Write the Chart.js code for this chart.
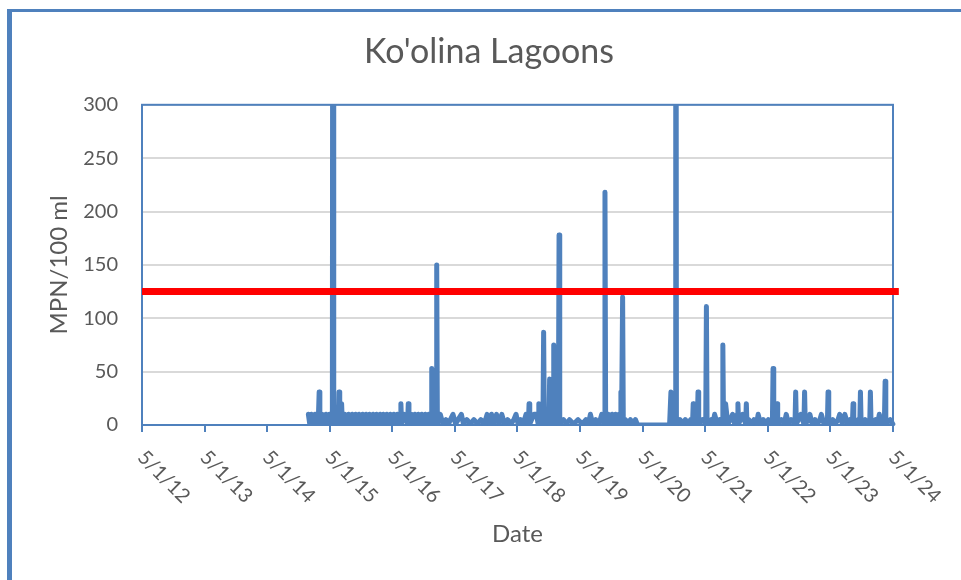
<!DOCTYPE html>
<html>
<head>
<meta charset="utf-8">
<title>Ko'olina Lagoons</title>
<script src="https://cdn.jsdelivr.net/npm/chart.js@4.4.1/dist/chart.umd.min.js"></script>
<style>
  html, body { margin: 0; padding: 0; background: #ffffff; }
  #wrap { width: 961px; height: 580px; }
</style>
</head>
<body>
<div id="wrap"><canvas id="lagoonChart" width="961" height="580"></canvas></div>
<script>
// Sample dates and enterococcus counts (MPN/100 ml)
const sampleDates = [
  '2014-12-28',
  '2015-01-05', '2015-01-15', '2015-01-25', '2015-02-05', '2015-02-15', '2015-02-25', '2015-03-01', '2015-03-05',
  '2015-03-20', '2015-03-30', '2015-04-10', '2015-04-20', '2015-04-30', '2015-05-10', '2015-05-17', '2015-05-21',
  '2015-05-25', '2015-06-10', '2015-06-21', '2015-06-25', '2015-06-29', '2015-07-10', '2015-07-14', '2015-07-30',
  '2015-08-10', '2015-08-20', '2015-08-30', '2015-09-10', '2015-09-20', '2015-09-30', '2015-10-10', '2015-10-20',
  '2015-10-30', '2015-11-10', '2015-11-20', '2015-11-30', '2015-12-10', '2015-12-20', '2015-12-30',
  '2016-01-10', '2016-01-20', '2016-01-30', '2016-02-10', '2016-02-20', '2016-03-01', '2016-03-10', '2016-03-20',
  '2016-03-30', '2016-04-10', '2016-04-20', '2016-04-30', '2016-05-10', '2016-05-20', '2016-05-30', '2016-06-16',
  '2016-06-20', '2016-06-24', '2016-07-10', '2016-07-29', '2016-08-02', '2016-08-06', '2016-08-22', '2016-09-01',
  '2016-09-10', '2016-09-20', '2016-09-30', '2016-10-10', '2016-10-20', '2016-10-30', '2016-11-10', '2016-11-20',
  '2016-11-30', '2016-12-13', '2016-12-17', '2016-12-21',
  '2017-01-05', '2017-01-11', '2017-01-15', '2017-01-19', '2017-02-05', '2017-02-20', '2017-03-10', '2017-03-25',
  '2017-04-05', '2017-04-20', '2017-05-05', '2017-05-20', '2017-06-08', '2017-06-20', '2017-07-10', '2017-07-30',
  '2017-08-20', '2017-09-10', '2017-09-30', '2017-10-20', '2017-11-05', '2017-11-20', '2017-12-01', '2017-12-15',
  '2017-12-30',
  '2018-01-15', '2018-01-30', '2018-02-15', '2018-03-05', '2018-03-25', '2018-04-10', '2018-04-23', '2018-05-05',
  '2018-05-20', '2018-06-05', '2018-06-20', '2018-07-04', '2018-07-08', '2018-07-12', '2018-08-05', '2018-08-20',
  '2018-08-30', '2018-09-03', '2018-09-07', '2018-09-27', '2018-10-01', '2018-10-05', '2018-10-25', '2018-11-01',
  '2018-11-05', '2018-11-09', '2018-11-25', '2018-11-29', '2018-12-03', '2018-12-20', '2018-12-26', '2018-12-30',
  '2019-01-03', '2019-01-25', '2019-02-10', '2019-03-01', '2019-03-25', '2019-04-20', '2019-05-15', '2019-06-05',
  '2019-06-20', '2019-07-01', '2019-07-15', '2019-08-01', '2019-08-20', '2019-09-05', '2019-09-20', '2019-09-24',
  '2019-09-28', '2019-10-15', '2019-10-25', '2019-11-05', '2019-11-15', '2019-11-25', '2019-12-05', '2019-12-15',
  '2019-12-24', '2019-12-26', '2019-12-30',
  '2020-01-05', '2020-01-09', '2020-01-22', '2020-02-05', '2020-02-20', '2020-03-05', '2020-03-20', '2020-04-01',
  '2020-10-05', '2020-10-13', '2020-10-17', '2020-11-06', '2020-11-10', '2020-11-14', '2020-12-05', '2020-12-20',
  '2021-01-05', '2021-01-20', '2021-02-05', '2021-02-16', '2021-02-20', '2021-02-24', '2021-03-16', '2021-03-20',
  '2021-03-24', '2021-04-15', '2021-05-04', '2021-05-08', '2021-05-12', '2021-06-05', '2021-06-15', '2021-06-25',
  '2021-07-10', '2021-07-25', '2021-08-08', '2021-08-12', '2021-08-16', '2021-08-28', '2021-09-10', '2021-09-25',
  '2021-10-08', '2021-10-20', '2021-11-04', '2021-11-08', '2021-11-12', '2021-12-05', '2021-12-23', '2021-12-27',
  '2021-12-31',
  '2022-01-10', '2022-01-25', '2022-02-10', '2022-02-25', '2022-03-06', '2022-03-20', '2022-04-05', '2022-04-20',
  '2022-05-05', '2022-05-28', '2022-06-01', '2022-06-05', '2022-06-20', '2022-06-24', '2022-06-28', '2022-07-20',
  '2022-08-05', '2022-08-17', '2022-08-30', '2022-09-15', '2022-10-07', '2022-10-11', '2022-10-15', '2022-11-10',
  '2022-11-28', '2022-12-02', '2022-12-06', '2022-12-25',
  '2023-01-02', '2023-01-15', '2023-02-01', '2023-02-15', '2023-03-01', '2023-03-10', '2023-03-25', '2023-04-14',
  '2023-04-18', '2023-04-22', '2023-05-15', '2023-05-30', '2023-06-15', '2023-06-25', '2023-07-10', '2023-07-25',
  '2023-08-10', '2023-08-25', '2023-09-07', '2023-09-11', '2023-09-15', '2023-10-10', '2023-10-20', '2023-10-24',
  '2023-10-28', '2023-11-20', '2023-12-05', '2023-12-17', '2023-12-21', '2023-12-25',
  '2024-01-20', '2024-02-01', '2024-02-11', '2024-02-25', '2024-03-12', '2024-03-16', '2024-03-20', '2024-04-15',
  '2024-04-30'
];

const mpnValues = [
  10,
  1, 10, 1, 10, 1, 10, 31, 1,
  10, 1, 10, 1, 10, 1, 10, 1000,
  1, 10, 1, 31, 1, 20, 1, 10,
  1, 10, 1, 10, 1, 10, 1, 10,
  1, 10, 1, 10, 1, 10, 1,
  10, 1, 10, 1, 10, 1, 10, 1,
  10, 1, 10, 1, 10, 1, 10, 1,
  20, 1, 10, 1, 20, 1, 10, 1,
  10, 1, 10, 1, 10, 1, 10, 1,
  10, 1, 53, 1,
  10, 1, 150, 1, 10, 1, 5, 1,
  5, 10, 1, 5, 10, 1, 5, 1,
  5, 1, 5, 1, 10, 1, 10, 1,
  10,
  1, 10, 1, 5, 1, 5, 10, 1,
  5, 1, 10, 1, 20, 1, 10, 10,
  1, 20, 1, 1, 87, 1, 10, 1,
  43, 1, 1, 75, 1, 10, 1, 178,
  1, 5, 1, 5, 1, 5, 1, 5,
  1, 10, 1, 5, 1, 10, 1, 218,
  1, 10, 1, 10, 1, 10, 1, 10,
  1, 31, 5,
  120, 1, 5, 1, 5, 1, 5, 0,
  0, 31, 1, 1, 1000, 1, 5, 1,
  5, 1, 5, 1, 20, 1, 1, 31,
  1, 5, 1, 111, 1, 5, 1, 10,
  1, 5, 1, 75, 1, 20, 1, 5,
  10, 1, 10, 20, 1, 10, 1, 20,
  1,
  5, 1, 5, 1, 10, 1, 5, 1,
  5, 1, 53, 1, 1, 20, 1, 5,
  1, 10, 1, 5, 1, 31, 1, 10,
  1, 31, 1, 5,
  10, 1, 5, 1, 5, 10, 1, 1,
  31, 1, 5, 1, 5, 10, 1, 10,
  1, 5, 1, 20, 1, 5, 1, 31,
  1, 5, 1, 1, 31, 1,
  5, 1, 10, 1, 5, 41, 1, 5,
  1
];

// State single-sample threshold drawn as the red line
const thresholdValue = 125;
const thresholdSpan = ['2012-05-01', '2024-06-04'];

// X axis ticks (every May 1st) and their labels
const tickYears = [2012, 2013, 2014, 2015, 2016, 2017, 2018, 2019, 2020, 2021, 2022, 2023, 2024];
const tickLabels = ['5/1/12', '5/1/13', '5/1/14', '5/1/15', '5/1/16', '5/1/17', '5/1/18',
  '5/1/19', '5/1/20', '5/1/21', '5/1/22', '5/1/23', '5/1/24'];

const yTicks = [0, 50, 100, 150, 200, 250, 300];

const colors = {
  blue: '#4f81bd',
  red: '#ff0000',
  grid: '#d9d9d9',
  text: '#595959'
};
const fontFamily = "Lato, 'Open Sans', sans-serif";

const tickValues = tickYears.map(y => Date.UTC(y, 4, 1));

const sampleData = sampleDates.map((d, i) => ({ x: Date.parse(d), y: mpnValues[i] }));
const thresholdData = thresholdSpan.map(d => ({ x: Date.parse(d), y: thresholdValue }));

// white background plus the blue frame at the left / top of the picture
const framePlugin = {
  id: 'frame',
  beforeDraw(chart) {
    const ctx = chart.ctx;
    ctx.save();
    ctx.fillStyle = '#ffffff';
    ctx.fillRect(0, 0, chart.width, chart.height);
    ctx.fillStyle = colors.blue;
    ctx.fillRect(7, 9, 5, chart.height - 9);
    ctx.fillRect(7, 9, chart.width - 7, 3);
    ctx.restore();
  },
  beforeDatasetsDraw(chart) {
    const a = chart.chartArea;
    const ctx = chart.ctx;
    ctx.save();
    ctx.strokeStyle = colors.blue;
    ctx.lineWidth = 2;
    ctx.strokeRect(a.left, a.top, a.right - a.left, a.bottom - a.top);
    ctx.restore();
  }
};

// date labels, turned 45 degrees clockwise like the Excel original
const slantedLabels = {
  id: 'slantedLabels',
  afterDraw(chart) {
    const scale = chart.scales.x;
    const ctx = chart.ctx;
    ctx.save();
    ctx.font = '20px ' + fontFamily;
    ctx.fillStyle = colors.text;
    ctx.textAlign = 'left';
    ctx.textBaseline = 'middle';
    scale.ticks.forEach((t, i) => {
      const px = scale.getPixelForValue(t.value);
      ctx.save();
      ctx.translate(px - 1, scale.top + 29);
      ctx.rotate(Math.PI / 4);
      ctx.fillText(tickLabels[i], 0, 0);
      ctx.restore();
    });
    ctx.restore();
  }
};

new Chart(document.getElementById('lagoonChart'), {
  type: 'line',
  data: {
    datasets: [
      {
        label: 'Threshold',
        data: thresholdData,
        borderColor: colors.red,
        borderWidth: 7,
        borderCapStyle: 'butt',
        pointRadius: 0,
        clip: false,
        order: 0
      },
      {
        label: 'Enterococcus',
        data: sampleData,
        borderColor: colors.blue,
        borderWidth: 5,
        borderJoinStyle: 'round',
        borderCapStyle: 'round',
        tension: 0,
        pointRadius: 0,
        clip: { left: 5, top: 0, right: 5, bottom: 1 },
        order: 1
      }
    ]
  },
  options: {
    responsive: false,
    animation: false,
    devicePixelRatio: 1,
    layout: { padding: { left: 17, right: 0, top: 0, bottom: 0 } },
    plugins: {
      legend: { display: false },
      tooltip: { enabled: false },
      title: {
        display: true,
        text: "Ko'olina Lagoons",
        color: colors.text,
        font: { family: fontFamily, size: 34, weight: 'normal' },
        padding: { top: 32, bottom: 32 }
      }
    },
    scales: {
      x: {
        type: 'linear',
        min: tickValues[0],
        max: tickValues[tickValues.length - 1],
        afterBuildTicks: (scale) => {
          scale.ticks = tickValues.map(v => ({ value: v }));
        },
        afterFit: (scale) => { scale.height = 155; },
        ticks: { display: false },
        grid: {
          display: true,
          drawOnChartArea: false,
          drawTicks: true,
          tickLength: 7,
          color: colors.blue,
          lineWidth: 2
        },
        border: { display: true, color: colors.blue, width: 2 },
        title: {
          display: true,
          text: 'Date',
          color: colors.text,
          font: { family: fontFamily, size: 24 },
          padding: { top: 0, bottom: 31 }
        }
      },
      y: {
        min: 0,
        max: 300,
        afterBuildTicks: (scale) => {
          scale.ticks = yTicks.map(v => ({ value: v }));
        },
        afterFit: (scale) => { scale.width = 125; },
        ticks: {
          color: colors.text,
          padding: 24,
          font: { family: fontFamily, size: 20 }
        },
        grid: {
          color: colors.grid,
          lineWidth: 2,
          drawTicks: false
        },
        border: { display: true, color: colors.blue, width: 2 },
        title: {
          display: true,
          text: 'MPN/100 ml',
          color: colors.text,
          font: { family: fontFamily, size: 24 },
          padding: { top: 28, bottom: 0 }
        }
      },
      // empty right-hand box that keeps the white margin beside the plot
      spacer: {
        position: 'right',
        display: true,
        afterFit: (scale) => { scale.width = 68; },
        ticks: { display: false },
        grid: { display: false },
        border: { display: false }
      }
    }
  },
  plugins: [framePlugin, slantedLabels]
});
</script>
</body>
</html>
